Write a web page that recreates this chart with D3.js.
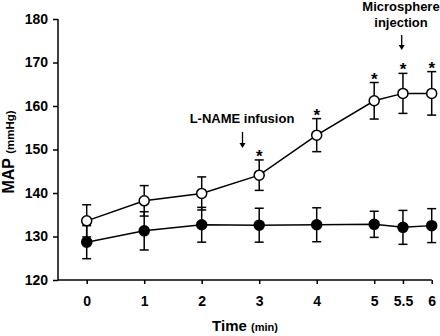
<!DOCTYPE html>
<html lang="en">
<head>
    <meta charset="UTF-8">
    <script src="https://cdn.jsdelivr.net/npm/d3@7"></script>
    <title>MAP</title>
    <style>
        body { margin: 0; background: #fff; }
        text { font-family: "Liberation Sans", Arial, sans-serif; font-weight: bold; }
    </style>
</head>
<body>
</body>
<script>
    let times = [0, 1, 2, 3, 4, 5, 5.5, 6];
    let xTickLabels = ["0", "1", "2", "3", "4", "5", "5.5", "6"];
    let yTicks = [120, 130, 140, 150, 160, 170, 180];
    let lnameMean = [133.6, 138.2, 139.9, 144.1, 153.3, 161.2, 162.9, 162.9];
    let lnameErr = [3.7, 3.5, 3.8, 3.5, 3.8, 4.2, 4.6, 5.0];
    let ctrlMean = [128.7, 131.3, 132.7, 132.6, 132.7, 132.8, 132.1, 132.5];
    let ctrlErr = [3.8, 4.4, 4.0, 3.9, 3.9, 3.0, 3.9, 3.9];
    let starred = [false, false, false, true, true, true, true, true];

    let svg = d3.select("body")
        .append("svg")
        .attr("width", 440)
        .attr("height", 336)

    let xScale = d3.scaleLinear().domain([0, 6]).range([86.7, 431.7]);
    let yScale = d3.scaleLinear().domain([120, 180]).range([280, 19]);

    // y axis
    let yAxis = d3.axisLeft(yScale).tickValues(yTicks).tickSize(5).tickPadding(5).tickSizeOuter(0);
    let gy = svg.append("g").attr("transform", "translate(58,0)").call(yAxis);
    gy.select(".domain").remove();
    gy.selectAll("line").attr("stroke", "#000").attr("stroke-width", 1.5);
    gy.selectAll("text").attr("font-size", 14).attr("fill", "#000")
        .attr("font-family", "Liberation Sans, Arial, sans-serif");
    svg.append("line")
        .attr("x1", 58).attr("x2", 58)
        .attr("y1", yScale(180)).attr("y2", yScale(120))
        .attr("stroke", "#000").attr("stroke-width", 1.5);

    // x axis
    let xAxis = d3.axisBottom(xScale).tickValues(times).tickSize(4).tickPadding(12)
        .tickFormat((d, i) => xTickLabels[i]);
    let gx = svg.append("g").attr("transform", "translate(0,280)").call(xAxis);
    gx.select(".domain").remove();
    gx.selectAll("line").attr("stroke", "#000").attr("stroke-width", 1.5);
    gx.selectAll("text").attr("font-size", 14).attr("fill", "#000")
        .attr("font-family", "Liberation Sans, Arial, sans-serif");
    svg.append("line")
        .attr("x1", 58).attr("x2", xScale(6))
        .attr("y1", 280).attr("y2", 280)
        .attr("stroke", "#000").attr("stroke-width", 1.5);

    // axis titles
    svg.append("text")
        .attr("transform", "translate(245,331)")
        .attr("text-anchor", "middle")
        .attr("font-size", 15)
        .html('Time <tspan font-size="11">(min)</tspan>');
    svg.append("text")
        .attr("transform", "translate(13.5,152) rotate(-90)")
        .attr("text-anchor", "middle")
        .attr("font-size", 16)
        .html('MAP <tspan font-size="11.5">(mmHg)</tspan>');

    function drawSeries(mean, err, fill) {
        let g = svg.append("g");
        let pts = times.map((t, i) => ({ t: t, m: mean[i], e: err[i] }));
        g.append("path")
            .datum(pts)
            .attr("fill", "none")
            .attr("stroke", "#000")
            .attr("stroke-width", 1.5)
            .attr("d", d3.line().x(d => xScale(d.t)).y(d => yScale(d.m)));
        let eb = g.selectAll(".eb").data(pts).enter().append("g");
        eb.append("line")
            .attr("x1", d => xScale(d.t)).attr("x2", d => xScale(d.t))
            .attr("y1", d => yScale(d.m - d.e)).attr("y2", d => yScale(d.m + d.e))
            .attr("stroke", "#000").attr("stroke-width", 1.5);
        [1, -1].forEach(s => {
            eb.append("line")
                .attr("x1", d => xScale(d.t) - 4.5).attr("x2", d => xScale(d.t) + 4.5)
                .attr("y1", d => yScale(d.m + s * d.e)).attr("y2", d => yScale(d.m + s * d.e))
                .attr("stroke", "#000").attr("stroke-width", 1.5);
        });
        g.selectAll("circle").data(pts).enter().append("circle")
            .attr("cx", d => xScale(d.t)).attr("cy", d => yScale(d.m))
            .attr("r", 5)
            .attr("fill", fill)
            .attr("stroke", "#000").attr("stroke-width", 1.5);
        return pts;
    }

    drawSeries(ctrlMean, ctrlErr, "#000");
    let lp = drawSeries(lnameMean, lnameErr, "#fff");

    // significance stars
    svg.selectAll(".star")
        .data(lp.filter((d, i) => starred[i]))
        .enter()
        .append("text")
        .attr("class", "star")
        .attr("x", d => xScale(d.t))
        .attr("y", d => yScale(d.m + d.e) + 2)
        .attr("text-anchor", "middle")
        .attr("font-size", 17)
        .text("*");

    // annotations
    function arrow(x, y1, y2) {
        svg.append("line")
            .attr("x1", x).attr("x2", x).attr("y1", y1).attr("y2", y2 - 3)
            .attr("stroke", "#000").attr("stroke-width", 1.3);
        svg.append("path")
            .attr("d", `M${x - 3},${y2 - 5} L${x + 3},${y2 - 5} L${x},${y2} Z`)
            .attr("fill", "#000");
    }
    svg.append("text").attr("x", 242).attr("y", 123).attr("text-anchor", "middle")
        .attr("font-size", 13).text("L-NAME infusion");
    arrow(242.5, 132, 148);
    svg.append("text").attr("x", 401).attr("y", 11).attr("text-anchor", "middle")
        .attr("font-size", 13).text("Microsphere");
    svg.append("text").attr("x", 401).attr("y", 27).attr("text-anchor", "middle")
        .attr("font-size", 13).text("injection");
    arrow(401.7, 35, 50);
</script>
</html>
